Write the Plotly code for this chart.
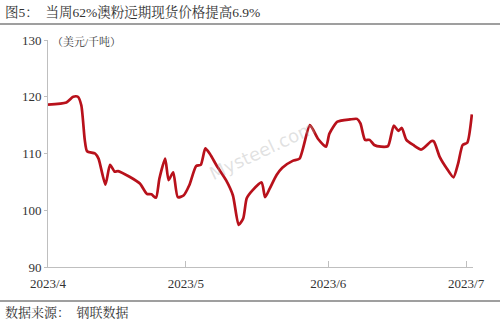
import plotly.graph_objects as go

dates = [
    "2023-04-01 00:00", "2023-04-05 00:00", "2023-04-06 12:00", "2023-04-07 12:00", "2023-04-08 06:00",
    "2023-04-09 00:00", "2023-04-09 12:00", "2023-04-11 06:00", "2023-04-12 00:00", "2023-04-13 12:00",
    "2023-04-14 12:00", "2023-04-15 12:00", "2023-04-16 06:00", "2023-04-18 18:00", "2023-04-21 00:00",
    "2023-04-22 12:00", "2023-04-23 12:00", "2023-04-24 12:00", "2023-04-25 06:00", "2023-04-26 12:00",
    "2023-04-27 06:00", "2023-04-28 06:00", "2023-04-29 06:00", "2023-04-30 12:00", "2023-05-01 18:00",
    "2023-05-03 06:00", "2023-05-04 06:00", "2023-05-05 06:00", "2023-05-06 06:00", "2023-05-07 18:00",
    "2023-05-09 18:00", "2023-05-11 06:00", "2023-05-12 12:00", "2023-05-13 12:00", "2023-05-14 06:00",
    "2023-05-15 12:00", "2023-05-17 12:00", "2023-05-18 06:00", "2023-05-19 06:00", "2023-05-20 18:00",
    "2023-05-22 00:00", "2023-05-24 06:00", "2023-05-25 18:00", "2023-05-28 00:00", "2023-05-29 18:00",
    "2023-05-31 12:00", "2023-06-01 06:00", "2023-06-03 00:00", "2023-06-05 18:00", "2023-06-07 06:00",
    "2023-06-08 00:00", "2023-06-09 00:00", "2023-06-10 00:00", "2023-06-11 00:00", "2023-06-12 12:00",
    "2023-06-14 00:00", "2023-06-15 06:00", "2023-06-16 06:00", "2023-06-17 00:00", "2023-06-18 00:00",
    "2023-06-19 12:00", "2023-06-21 06:00", "2023-06-23 12:00", "2023-06-24 00:00", "2023-06-25 06:00",
    "2023-06-26 18:00", "2023-06-28 06:00", "2023-06-29 06:00", "2023-06-30 06:00", "2023-07-01 06:00",
    "2023-07-02 06:00",
]
prices = [
    118.6, 119.0, 120.0, 120.0, 118.5,
    112.4, 110.4, 110.0, 109.1, 104.5,
    108.0, 106.8, 106.9, 105.9, 104.7,
    102.9, 102.8, 102.2, 105.6, 109.1,
    105.3, 106.7, 102.3, 102.6, 104.4,
    107.8, 108.0, 110.9, 109.9, 107.8,
    105.3, 102.6, 97.4, 98.6, 102.1,
    103.5, 104.9, 102.3, 103.8, 106.2,
    107.5, 108.7, 109.1, 115.0, 112.6,
    111.2, 113.5, 115.6, 116.0, 116.1,
    115.3, 112.4, 112.4, 111.5, 111.2,
    111.3, 114.9, 114.0, 114.5, 112.4,
    111.5, 110.7, 112.2, 112.1, 109.4,
    107.4, 105.8, 108.2, 111.5, 111.9,
    116.9,
]
x_ticks = ["2023-04-01", "2023-05-01", "2023-06-01", "2023-07-01"]
x_tick_labels = ["2023/4", "2023/5", "2023/6", "2023/7"]
y_ticks = [90, 100, 110, 120, 130]

title_text = "图5：  当周62%澳粉远期现货价格提高6.9%"
unit_text = "（美元/千吨）"
source_text = "数据来源：  钢联数据"

W, H = 500, 327
L, R, T, B = 48, 27, 40, 60
pw, ph = W - L - R, H - T - B

def px_x(p):
    return (p - L) / pw

def px_y(p):
    return (H - B - p) / ph

serif = "Liberation Serif, Noto Serif CJK SC, Noto Sans CJK SC, serif"

fig = go.Figure()
fig.add_trace(go.Scatter(
    x=dates, y=prices, mode="lines",
    line=dict(color="#B8111B", width=2.7, shape="spline", smoothing=0.6),
    hoverinfo="skip", showlegend=False,
))

fig.update_layout(
    width=W, height=H,
    margin=dict(l=L, r=R, t=T, b=B),
    paper_bgcolor="white", plot_bgcolor="white",
    font=dict(family=serif, size=13, color="#333333"),
    xaxis=dict(
        type="date", range=["2023-04-01", "2023-07-02 12:00"],
        tickvals=x_ticks, ticktext=x_tick_labels,
        showgrid=False, zeroline=False,
        showline=True, linecolor="#BFBFBF", linewidth=1,
        ticks="inside", ticklen=6, tickcolor="#BFBFBF",
        ticklabelstandoff=4,
        tickfont=dict(family=serif, size=13, color="#333333"),
    ),
    yaxis=dict(
        range=[90, 130], tickvals=y_ticks,
        showgrid=False, zeroline=False,
        showline=True, linecolor="#BFBFBF", linewidth=1,
        ticks="outside", ticklen=3, tickcolor="#BFBFBF",
        tickfont=dict(family=serif, size=13, color="#333333"),
    ),
    shapes=[
        dict(type="line", xref="paper", yref="paper", x0=px_x(0), x1=px_x(W),
             y0=px_y(24), y1=px_y(24), line=dict(color="#7F7F7F", width=1.5)),
        dict(type="line", xref="paper", yref="paper", x0=px_x(0), x1=px_x(W),
             y0=px_y(301), y1=px_y(301), line=dict(color="#7F7F7F", width=1.5)),
    ],
    annotations=[
        dict(text=title_text, xref="paper", yref="paper", x=px_x(3), y=px_y(12),
             xanchor="left", yanchor="middle", showarrow=False,
             font=dict(family=serif, size=13.5, color="#333333")),
        dict(text=unit_text, xref="paper", yref="paper", x=px_x(50), y=px_y(42),
             xanchor="left", yanchor="middle", showarrow=False,
             font=dict(family=serif, size=11, color="#333333")),
        dict(text=source_text, xref="paper", yref="paper", x=px_x(3), y=px_y(312),
             xanchor="left", yanchor="middle", showarrow=False,
             font=dict(family=serif, size=13, color="#333333")),
        dict(text="Mysteel.com", xref="paper", yref="paper", x=px_x(262), y=px_y(150),
             xanchor="center", yanchor="middle", showarrow=False, textangle=-25,
             font=dict(family="DejaVu Sans, sans-serif", size=18, color="rgba(170,170,170,0.35)")),
    ],
)

fig.write_html("out.html")
